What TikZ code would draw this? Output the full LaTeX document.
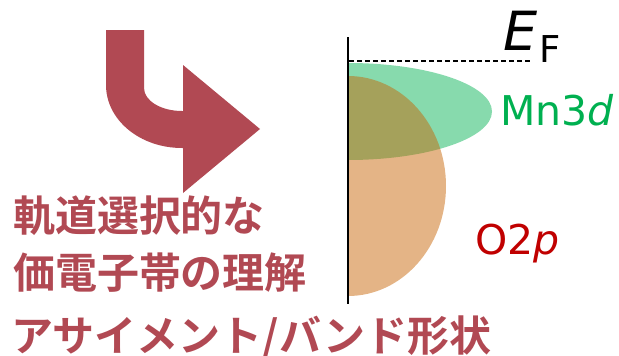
\documentclass[tikz,border=0pt]{standalone}
\usepackage{fontspec}
\setmainfont{DejaVu Sans}
\newfontfamily\cjk{Noto Sans CJK JP}[BoldFont=* Bold]
\definecolor{arrowred}{RGB}{177,73,83}
\definecolor{mngreen}{RGB}{0,176,80}
\definecolor{ored}{RGB}{192,0,0}
\definecolor{oband}{RGB}{199,99,3}
\tikzset{
  lbl/.style={inner sep=0pt, outer sep=0pt, anchor=base west},
  jptext/.style={lbl, text=arrowred, font=\cjk\bfseries\fontsize{42}{42}\selectfont},
}
\begin{document}
\begin{tikzpicture}[x=1pt,y=-1pt]
\useasboundingbox (0,0) rectangle (619,356);
% bent arrow
\fill[arrowred] (106,30) -- (144,30) -- (144,88)
  .. controls (144,100.7) and (161,111) .. (182,111)
  -- (183,111) -- (183,65) -- (260,129) -- (183,193) -- (183,148) -- (182,148)
  .. controls (140,148) and (106,120) .. (106,85) -- cycle;
% bands
\begin{scope}
  \clip (348,0) rectangle (619,356);
  \fill[mngreen, opacity=0.47] (348,111.5) ellipse [x radius=144pt, y radius=48.5pt];
  \fill[oband, opacity=0.48] (348,186) ellipse [x radius=98pt, y radius=110pt];
\end{scope}
% axis and Fermi level
\coordinate (atop) at (347.5,37);
\coordinate (abot) at (347.5,304);
\draw[line width=2pt] (atop) -- (abot);
\coordinate (ef0) at (349,61);
\coordinate (ef1) at (532,61);
\draw[line width=1.5pt, dash pattern=on 4.5pt off 3.5pt] (ef0) -- (ef1);
% labels
\node[lbl, font=\fontsize{54}{54}\selectfont\itshape] (E) at (503,50) {E};
\node[lbl, font=\fontsize{37}{37}\selectfont] (F) at (539,62) {F};
\node[lbl, text=mngreen, font=\fontsize{41}{41}\selectfont] (mn) at (500,125) {Mn3\textit{d}};
\node[lbl, text=ored, font=\fontsize{41}{41}\selectfont] (op) at (475,254) {O2\textit{p}};
\node[jptext] (l1) at (13,231) {軌道選択的な};
\node[jptext] (l2) at (13,288) {価電子帯の理解};
\node[jptext] (l3) at (11,351) {アサイメント/バンド形状};
\end{tikzpicture}
\end{document}
